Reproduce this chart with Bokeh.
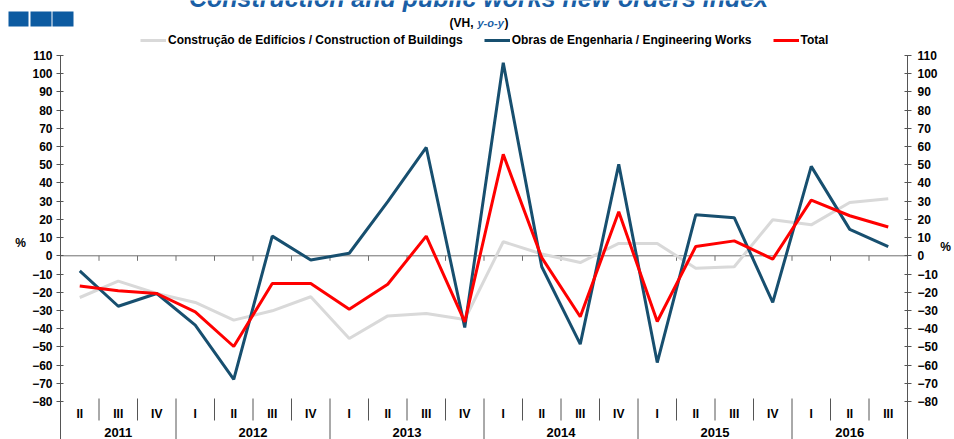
from bokeh.plotting import figure
from bokeh.models import (Range1d, LinearAxis, FixedTicker, Legend, LegendItem, Label,
                          BoxAnnotation, ColumnDataSource)
from bokeh.core.properties import value
from bokeh.embed import file_html
from bokeh.resources import INLINE

# ---------------- data ----------------
years = ["2011"] * 3 + ["2012"] * 4 + ["2013"] * 4 + ["2014"] * 4 + ["2015"] * 4 + ["2016"] * 3
quarters = ["II", "III", "IV",
            "I", "II", "III", "IV",
            "I", "II", "III", "IV",
            "I", "II", "III", "IV",
            "I", "II", "III", "IV",
            "I", "II", "III"]
year_names = ["2011", "2012", "2013", "2014", "2015", "2016"]

buildings = [-22.9, -13.9, -20.7, -25.6, -35.3, -30.2, -22.5, -45.4, -33.0, -31.7, -35.0,
             7.7, 1.0, -3.7, 6.8, 6.8, -6.8, -6.0, 19.8, 17.0, 29.3, 31.3]
engineering = [-8.3, -27.7, -20.7, -38.1, -67.9, 10.8, -2.3, 1.4, 29.7, 59.5, -39.4,
               106.0, -6.0, -48.5, 50.2, -58.6, 22.5, 20.9, -25.6, 49.1, 14.5, 5.1]
total = [-16.6, -19.2, -20.7, -30.8, -49.8, -15.2, -15.2, -29.4, -15.6, 10.8, -36.3,
         55.7, -1.0, -33.5, 24.2, -36.1, 5.1, 8.2, -1.8, 30.6, 22.0, 15.8]

y_ticks = list(range(-80, 111, 10))
series_labels = ["Construção de Edifícios / Construction of Buildings",
                 "Obras de Engenharia / Engineering Works",
                 "Total"]
title_text = "Construction and public works new orders index"
unit_label = "%"

# ---------------- layout / styling ----------------
W, H = 954, 439
FONT = "Liberation Sans"
C_GREY = "#d9d9d9"
C_BLUE = "#174f6f"
C_RED = "#ff0000"
C_AXIS = "#555555"
C_TITLE = "#1a5fa6"

n = len(quarters)
xs = list(range(n))
left_edge, right_edge = -0.5, n - 0.5

# plot area geometry (pixels): category band width and value scale
CAT_PX = 38.5
LEFT_PX, RIGHT_PX = 60, 47
ZERO_PX, UNIT_PX = 255.3, 1.8211
x_range = Range1d(left_edge - LEFT_PX / CAT_PX, right_edge + RIGHT_PX / CAT_PX)
y_top = ZERO_PX / UNIT_PX
y_bottom = -(H - ZERO_PX) / UNIT_PX
y_range = Range1d(y_bottom, y_top)


def val(py):
    """value coordinate of a pixel row"""
    return (ZERO_PX - py) / UNIT_PX


p = figure(width=W, height=H, x_range=x_range, y_range=y_range,
           output_backend="svg", toolbar_location=None,
           x_axis_location=None, y_axis_location=None, min_border=0)
p.min_border_left = p.min_border_right = p.min_border_top = p.min_border_bottom = 0
p.grid.visible = False
p.outline_line_color = None
p.background_fill_color = "white"
p.border_fill_color = "white"


def make_axis(loc, standoff):
    ax = LinearAxis(fixed_location=loc, bounds=(y_bottom, y_ticks[-1]))
    ax.ticker = FixedTicker(ticks=y_ticks)
    ax.axis_line_color = C_AXIS
    ax.major_tick_line_color = C_AXIS
    ax.major_tick_in = 3
    ax.major_tick_out = 4
    ax.minor_tick_line_color = None
    ax.major_label_text_font = FONT
    ax.major_label_text_font_size = "12px"
    ax.major_label_text_font_style = "bold"
    ax.major_label_text_color = "black"
    ax.major_label_standoff = standoff
    return ax


p.add_layout(make_axis(left_edge, 4), "left")
p.add_layout(make_axis(right_edge, 6), "right")

# "%" unit labels beside both value axes
for ux, uy, al in [(20, 242, "center"), (945, 246, "center")]:
    p.add_layout(Label(x=ux, y=H - uy, x_units="screen", y_units="screen", text=unit_label,
                       text_font=FONT, text_font_size="12px", text_font_style="bold",
                       text_color="black", text_align=al, text_baseline="middle"))

# zero line with small ticks at category boundaries
p.segment(x0=[left_edge], y0=[0], x1=[right_edge], y1=[0], line_color="#707070", line_width=1)
bounds = [i - 0.5 for i in range(1, n)]
long_bounds = [i - 0.5 for i in range(1, n) if years[i] != years[i - 1]]
short_bounds = [i - 0.5 for i in range(1, n) if years[i] == years[i - 1]]
p.segment(x0=bounds, y0=[0] * len(bounds), x1=bounds, y1=[val(ZERO_PX + 5)] * len(bounds),
          line_color="#707070", line_width=1)

# category axis (quarters / years) drawn below the value range
SEP_TOP = val(398)
SEP_SHORT = val(420)
QUARTER_Y = val(413)
YEAR_Y = val(432)
p.segment(x0=short_bounds, y0=[SEP_TOP] * len(short_bounds), x1=short_bounds,
          y1=[SEP_SHORT] * len(short_bounds), line_color=C_AXIS, line_width=1)
p.segment(x0=long_bounds, y0=[SEP_TOP] * len(long_bounds), x1=long_bounds,
          y1=[y_bottom] * len(long_bounds), line_color=C_AXIS, line_width=1)

q_src = ColumnDataSource(dict(x=xs, y=[QUARTER_Y] * n, t=quarters))
p.text(x="x", y="y", text="t", source=q_src, text_font=value(FONT), text_font_size="12px",
       text_font_style="bold", text_align="center", text_baseline="middle", text_color="black")
year_x = [sum(i for i in xs if years[i] == yr) / years.count(yr) for yr in year_names]
y_src = ColumnDataSource(dict(x=year_x, y=[YEAR_Y] * len(year_names), t=year_names))
p.text(x="x", y="y", text="t", source=y_src, text_font=value(FONT), text_font_size="13px",
       text_font_style="bold", text_align="center", text_baseline="middle", text_color="black")

# series
r_b = p.line(x=xs, y=buildings, line_color=C_GREY, line_width=3)
r_e = p.line(x=xs, y=engineering, line_color=C_BLUE, line_width=3)
r_t = p.line(x=xs, y=total, line_color=C_RED, line_width=3)

legend = Legend(items=[LegendItem(label=series_labels[0], renderers=[r_b]),
                       LegendItem(label=series_labels[1], renderers=[r_e]),
                       LegendItem(label=series_labels[2], renderers=[r_t])],
                orientation="horizontal", location=(140, H - 47),
                border_line_color=None, background_fill_alpha=0,
                label_text_font=FONT, label_text_font_size="12px", label_text_font_style="bold",
                label_text_color="black",
                glyph_width=26, glyph_height=12, label_height=12, label_standoff=2,
                spacing=21, padding=0, margin=0)
p.add_layout(legend, "center")

# title (cut at the top edge, as in the source) and subtitle
p.add_layout(Label(x=478, y=H + 3, x_units="screen", y_units="screen", text=title_text,
                   text_font=FONT, text_font_size="25px", text_font_style="bold italic",
                   text_color=C_TITLE, text_align="center", text_baseline="alphabetic"))
p.add_layout(Label(x=449, y=H - 22, x_units="screen", y_units="screen", text="(VH,",
                   text_font=FONT, text_font_size="12px", text_font_style="bold",
                   text_color="black", text_align="left", text_baseline="middle"))
p.add_layout(Label(x=477, y=H - 22, x_units="screen", y_units="screen", text="y-o-y",
                   text_font=FONT, text_font_size="11px", text_font_style="bold italic",
                   text_color=C_TITLE, text_align="left", text_baseline="middle"))
p.add_layout(Label(x=504, y=H - 22, x_units="screen", y_units="screen", text=")",
                   text_font=FONT, text_font_size="12px", text_font_style="bold",
                   text_color="black", text_align="left", text_baseline="middle"))

# logo squares
for l, r in [(8, 28), (30, 51), (52, 73)]:
    p.add_layout(BoxAnnotation(left=l, right=r, bottom=H - 26, top=H - 11,
                               left_units="screen", right_units="screen",
                               bottom_units="screen", top_units="screen",
                               fill_color="#0d5ba1", fill_alpha=1, line_color=None))

open("out.html", "w").write(file_html(p, INLINE))
